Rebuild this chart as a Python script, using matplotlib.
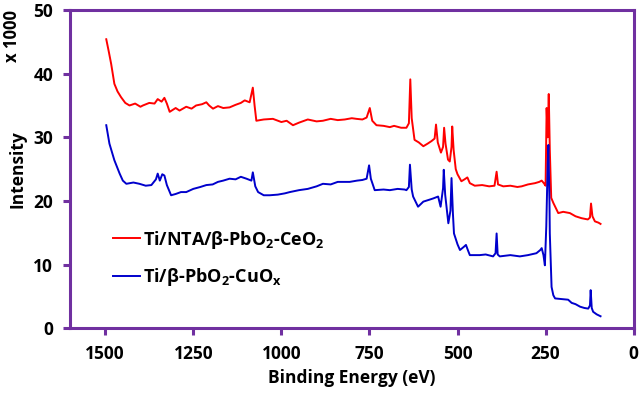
import matplotlib
matplotlib.use("Agg")
import matplotlib.pyplot as plt

# ----- Daten -----
energy_red = [1497, 1490, 1483, 1474, 1465, 1455, 1443, 1431, 1415, 1400, 1393, 1375, 1360, 1351,
              1340, 1332, 1325, 1317, 1300, 1289, 1270, 1255, 1242, 1225, 1213, 1205, 1194, 1180,
              1165, 1147, 1130, 1115, 1104, 1090, 1081, 1076, 1071, 1050, 1024, 1000, 985, 967,
              950, 925, 900, 882, 860, 840, 820, 800, 787, 770, 758, 749, 742, 730, 710, 692, 680,
              660, 645, 638, 634, 630, 622, 610, 597, 585, 574, 565, 561, 556, 547, 541, 538, 534,
              527, 522, 517, 515, 511, 505, 500, 489, 480, 472, 465, 451, 430, 410, 395, 389, 385,
              370, 350, 330, 318, 300, 280, 268, 261, 255, 250, 247, 244, 241, 238, 234, 228, 214,
              200, 181, 165, 148, 130, 124, 121, 117, 110, 100, 94]
inten_red = [45.4, 43.5, 41.5, 38.4, 37.2, 36.3, 35.4, 35.0, 35.3, 34.8, 35.0, 35.4, 35.3, 36.0,
             35.6, 36.2, 35.3, 34.0, 34.6, 34.2, 34.8, 34.5, 35.0, 35.2, 35.5, 35.0, 34.5, 34.9,
             34.6, 34.7, 35.1, 35.4, 35.8, 35.5, 37.8, 35.0, 32.6, 32.8, 32.9, 32.4, 32.6, 31.9,
             32.3, 32.8, 32.5, 32.6, 32.9, 32.7, 32.8, 33.0, 32.9, 32.8, 33.1, 34.6, 32.6, 31.9,
             31.8, 31.6, 31.8, 31.5, 31.5, 32.2, 39.1, 33.0, 29.6, 29.2, 28.6, 29.0, 29.4, 29.8,
             32.0, 29.2, 27.6, 28.5, 31.5, 29.0, 26.5, 26.2, 28.5, 31.7, 28.0, 25.0, 24.2, 23.1,
             23.4, 23.7, 22.8, 22.4, 22.5, 22.3, 22.4, 24.6, 22.6, 22.3, 22.4, 22.2, 22.3, 22.6,
             22.8, 23.0, 23.2, 22.8, 22.4, 34.6, 30.0, 36.8, 28.0, 20.5, 19.7, 18.1, 18.3, 18.1,
             17.6, 17.3, 17.1, 17.4, 19.6, 17.6, 16.8, 16.6, 16.4]

energy_blue = [1497, 1488, 1474, 1459, 1450, 1440, 1420, 1403, 1385, 1369, 1356, 1351, 1345, 1338,
               1332, 1325, 1313, 1300, 1285, 1270, 1250, 1230, 1213, 1195, 1180, 1165, 1147, 1130,
               1115, 1099, 1085, 1081, 1074, 1066, 1050, 1033, 1010, 990, 976, 950, 925, 900, 882,
               860, 840, 806, 785, 770, 758, 751, 746, 735, 710, 692, 670, 650, 645, 638, 635, 630,
               626, 612, 597, 580, 569, 555, 548, 541, 539, 535, 526, 520, 517, 513, 510, 500, 493,
               482, 476, 470, 465, 437, 420, 399, 392, 389, 386, 380, 350, 323, 300, 276, 265, 261,
               256, 252, 248, 244, 242, 239, 238, 233, 228, 223, 205, 186, 176, 165, 152, 140, 129,
               124, 122, 119, 115, 105, 94]
inten_blue = [31.9, 29.0, 26.4, 24.3, 23.2, 22.7, 22.9, 22.7, 22.4, 22.5, 23.4, 24.3, 23.2, 24.2,
              24.0, 22.5, 20.9, 21.1, 21.4, 21.4, 21.9, 22.2, 22.5, 22.6, 23.0, 23.2, 23.5, 23.4,
              23.8, 23.5, 23.2, 24.5, 22.3, 21.4, 20.9, 20.9, 21.0, 21.2, 21.4, 21.7, 21.9, 22.3,
              22.7, 22.6, 23.0, 23.0, 23.2, 23.3, 23.5, 25.6, 23.5, 21.7, 21.8, 21.7, 21.9, 21.8,
              21.7, 22.2, 25.7, 21.8, 20.7, 19.1, 19.9, 20.2, 20.4, 20.7, 19.1, 22.0, 24.9, 21.0,
              16.5, 18.5, 23.6, 18.0, 14.9, 13.2, 12.3, 12.8, 13.1, 12.2, 11.5, 11.5, 11.6, 11.3,
              11.8, 14.9, 11.6, 11.3, 11.5, 11.3, 11.5, 11.8, 12.3, 12.6, 11.5, 9.9, 16.0, 26.0,
              28.8, 20.0, 14.9, 6.5, 5.2, 4.7, 4.6, 4.5, 4.0, 3.8, 3.4, 3.2, 3.1, 3.6, 6.0, 3.2,
              2.6, 2.2, 1.9]

label_red = r"Ti/NTA/β-PbO$_2$-CeO$_2$"
label_blue = r"Ti/β-PbO$_2$-CuO$_\mathregular{x}$"
x_ticks = [0, 250, 500, 750, 1000, 1250, 1500]
y_ticks = [0, 10, 20, 30, 40, 50]

# ----- Stil -----
purple = "#7030A0"
plt.rcParams["font.family"] = ["Open Sans", "DejaVu Sans"]
plt.rcParams["font.weight"] = "bold"
plt.rcParams["mathtext.fontset"] = "custom"
plt.rcParams["mathtext.rm"] = "Open Sans:bold"
plt.rcParams["mathtext.it"] = "Open Sans:bold"
plt.rcParams["mathtext.bf"] = "Open Sans:bold"
plt.rcParams["mathtext.default"] = "rm"

fig = plt.figure(figsize=(6.42, 3.98), dpi=100)
ax = fig.add_axes([0.109, 0.175, 0.878, 0.800])

ax.plot(energy_red, inten_red, color="#FF0000", lw=1.4, label=label_red)
ax.plot(energy_blue, inten_blue, color="#0000CC", lw=1.4, label=label_blue)

ax.set_xlim(1600, 0)
ax.set_ylim(0, 50)
ax.set_xticks(x_ticks)
ax.set_yticks(y_ticks)

for s in ax.spines.values():
    s.set_color(purple)
    s.set_linewidth(2.2)
ax.tick_params(axis="both", direction="out", length=5, width=2.2, color=purple,
               labelsize=12.5, pad=7)

ax.set_xlabel("Binding Energy (eV)", fontsize=12.5, fontweight="bold", labelpad=4)
ax.set_ylabel("Intensity", fontsize=12.5, fontweight="bold", labelpad=5)
fig.text(0.019, 0.975, "x 1000", rotation=90, ha="center", va="top",
         fontsize=12, fontweight="bold")

ax.legend(loc="center left", bbox_to_anchor=(0.076, 0.22), frameon=False,
          fontsize=13, handlelength=1.5, handletextpad=0.15, labelspacing=0.85,
          borderpad=0, borderaxespad=0)

fig.savefig("out.png", dpi=100)
